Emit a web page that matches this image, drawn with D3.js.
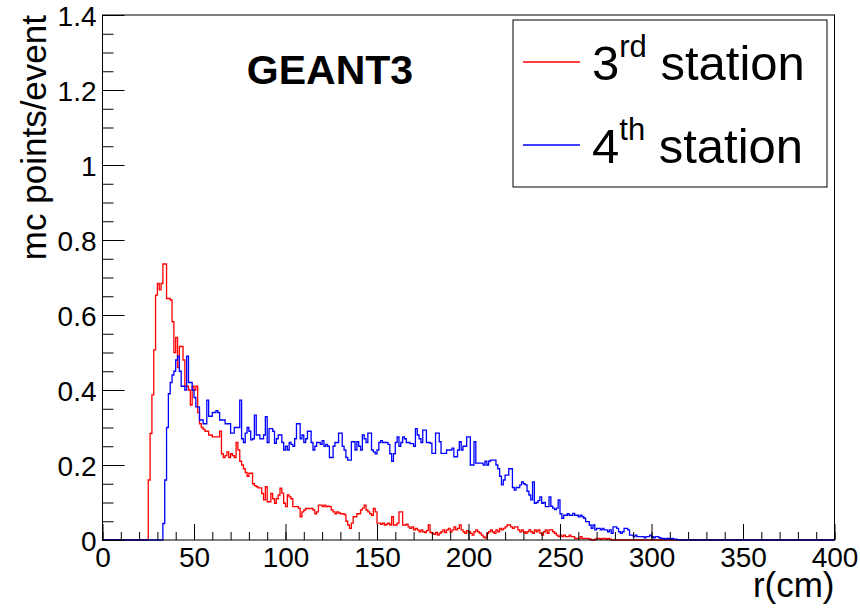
<!DOCTYPE html>
<html>
<head>
<meta charset="utf-8">
<script src="https://cdn.jsdelivr.net/npm/d3@7"></script>
<style>
  body { margin: 0; background: #fff; }
  svg { display: block; font-family: "Liberation Sans", Arial, Helvetica, sans-serif; }
</style>
</head>
<body>
<div id="chart"></div>
<script>
// Histogram: 400 bins of 1 cm, r from 0 to 400 cm
const nBins = 400;
const xMax = 400;

// mc points/event per 1 cm bin, 3rd station (first value is the bin at r = 25 cm)
const station3Start = 25;
const station3 = [
  .16,.284,.387,.507,.653,.684,.667,.684,.736,.736,
  .644,.644,.64,.582,.50,.54,.46,.516,.516,.48,
  .41,.41,.40,.36,.41,.40,.41,.34,.31,.30,
  .295,.29,.29,.28,.28,.275,.275,.275,.275,.29,
  .23,.22,.225,.235,.22,.23,.225,.22,.26,.24,
  .21,.20,.19,.18,.17,.178,.178,.15,.145,.142,
  .139,.139,.124,.107,.142,.102,.102,.124,.11,.098,
  .11,.12,.138,.125,.098,.089,.12,.115,.11,.089,
  .089,.089,.085,.062,.075,.08,.084,.084,.084,.084,
  .08,.07,.075,.093,.093,.089,.093,.089,.09,.089,
  .08,.075,.07,.075,.072,.07,.07,.068,.05,.04,
  .031,.045,.062,.062,.07,.07,.08,.085,.093,.08,
  .075,.07,.066,.084,.075,.045,.045,.042,.045,.04,
  .042,.045,.04,.062,.04,.04,.045,.075,.075,.04,
  .04,.042,.035,.031,.035,.027,.031,.027,.022,.027,
  .022,.02,.025,.04,.02,.018,.015,.02,.013,.018,
  .022,.027,.02,.027,.031,.022,.027,.035,.027,.031,
  .04,.027,.022,.018,.025,.022,.018,.013,.022,.027,
  .022,.018,.013,.008,.005,.018,.022,.027,.022,.018,
  .027,.022,.031,.027,.031,.035,.04,.04,.035,.031,
  .035,.035,.027,.022,.027,.022,.018,.022,.027,.022,
  .018,.027,.022,.027,.018,.013,.022,.027,.018,.027,
  .027,.022,.018,.013,.009,.013,.009,.013,.009,.009,
  .013,.009,.009,.004,.004,.004,.009,.004,.004,.004,
  .004,.002,0,0,.002,.004,.004,.002,.004,.004,
  .002,.004,.002
];

// mc points/event per 1 cm bin, 4th station (first value is the bin at r = 33 cm)
const station4Start = 33;
const station4 = [
  .044,.16,.30,.39,.42,.44,.45,.48,.49,.45,
  .41,.41,.40,.49,.42,.42,.40,.38,.355,.355,
  .32,.32,.31,.31,.373,.33,.33,.34,.34,.345,
  .34,.32,.32,.32,.31,.31,.31,.285,.285,.30,
  .30,.30,.373,.27,.26,.285,.30,.29,.267,.27,
  .333,.28,.28,.27,.27,.28,.329,.26,.297,.297,
  .29,.258,.27,.28,.28,.26,.24,.25,.24,.26,
  .255,.25,.27,.31,.31,.27,.28,.26,.27,.29,
  .29,.26,.24,.25,.26,.26,.255,.265,.25,.255,
  .25,.22,.22,.25,.26,.26,.285,.285,.25,.24,
  .22,.213,.213,.262,.262,.24,.262,.25,.24,.28,
  .27,.26,.285,.285,.24,.235,.23,.24,.26,.265,
  .26,.26,.26,.255,.23,.21,.23,.26,.275,.25,
  .26,.275,.27,.26,.26,.257,.257,.25,.297,.28,
  .27,.26,.293,.293,.26,.26,.258,.231,.231,.285,
  .285,.262,.231,.231,.231,.24,.24,.24,.245,.222,
  .222,.24,.262,.24,.25,.25,.275,.275,.20,.20,
  .262,.205,.205,.205,.205,.20,.21,.20,.21,.213,
  .213,.213,.20,.19,.17,.147,.16,.173,.173,.19,
  .19,.14,.133,.14,.14,.147,.155,.15,.147,.13,
  .12,.107,.155,.098,.10,.105,.115,.098,.10,.089,
  .089,.115,.09,.085,.081,.085,.107,.07,.058,.066,
  .066,.07,.066,.066,.071,.066,.066,.062,.066,.062,
  .058,.049,.049,.04,.031,.04,.027,.031,.031,.027,
  .031,.027,.027,.022,.027,.018,.035,.035,.031,.022,
  .018,.022,.031,.031,.027,.013,.013,.009,.013,.009,
  .009,.009,.009,.006,.009,.009,.013,.009,.006,.009,
  .009,.006,.004,.004,.002,.004,.004,.002,.004,.002,.002
];

const xTicks = [0, 50, 100, 150, 200, 250, 300, 350, 400];
const yTicks = [0, 0.2, 0.4, 0.6, 0.8, 1, 1.2, 1.4];

const width = 860;
const height = 608;
const plot = { left: 102.5, right: 834.5, top: 15, bottom: 540 };

const svg = d3.select('#chart')
  .append('svg')
  .attr('width', width)
  .attr('height', height);

svg.append('rect').attr('width', width).attr('height', height).attr('fill', '#fff');

const x = d3.scaleLinear().domain([0, xMax]).range([plot.left, plot.right]);
const y = d3.scaleLinear().domain([0, 1.4]).range([plot.bottom, plot.top]);

// expand a partial array into the full 400-bin histogram (empty bins are 0)
function fullHist(values, start) {
  return d3.range(nBins).map(i => {
    const j = i - start;
    return j >= 0 && j < values.length ? values[j] : 0;
  });
}

function drawHist(values, start, color) {
  const counts = fullHist(values, start);
  const binW = xMax / nBins;
  const pts = counts.map((v, i) => [i * binW, v]);
  pts.push([xMax, counts[nBins - 1]]);
  const line = d3.line()
    .x(d => x(d[0]))
    .y(d => y(d[1]))
    .curve(d3.curveStepAfter);
  svg.append('path')
    .datum(pts)
    .attr('d', line)
    .attr('fill', 'none')
    .attr('stroke', color)
    .attr('stroke-width', 1.3);
}

drawHist(station3, station3Start, '#ff0000');
drawHist(station4, station4Start, '#0000ff');

// minor ticks
svg.append('g')
  .attr('transform', `translate(0,${plot.bottom})`)
  .call(d3.axisBottom(x).tickValues(d3.range(0, xMax + 1, 10)).tickSize(-8).tickSizeOuter(0).tickFormat(''))
  .call(g => g.select('.domain').remove());
svg.append('g')
  .attr('transform', `translate(${plot.left},0)`)
  .call(d3.axisLeft(y).tickValues(d3.range(0, 29).map(i => i * 0.05)).tickSize(-11).tickSizeOuter(0).tickFormat(''))
  .call(g => g.select('.domain').remove());

// major ticks with labels
const xAxis = svg.append('g')
  .attr('transform', `translate(0,${plot.bottom})`)
  .call(d3.axisBottom(x).tickValues(xTicks).tickSize(-16).tickSizeOuter(0).tickPadding(7).tickFormat(d3.format('d')));
xAxis.select('.domain').remove();
xAxis.selectAll('text').attr('font-size', 28).attr('font-family', null).attr('fill', '#000');

const yAxis = svg.append('g')
  .attr('transform', `translate(${plot.left},0)`)
  .call(d3.axisLeft(y).tickValues(yTicks).tickSize(-22).tickSizeOuter(0).tickPadding(6).tickFormat(d3.format('~g')));
yAxis.select('.domain').remove();
yAxis.selectAll('text').attr('font-size', 28).attr('font-family', null).attr('fill', '#000').attr('dy', '0.36em');

svg.selectAll('.tick line').attr('stroke', '#000').attr('stroke-width', 1);

// frame
svg.append('rect')
  .attr('x', plot.left).attr('y', plot.top)
  .attr('width', plot.right - plot.left).attr('height', plot.bottom - plot.top)
  .attr('fill', 'none').attr('stroke', '#000').attr('stroke-width', 1);

// axis titles
svg.append('text')
  .attr('x', plot.right).attr('y', 597)
  .attr('text-anchor', 'end')
  .attr('font-size', 35)
  .text('r(cm)');

svg.append('text')
  .attr('transform', `translate(46,${plot.top}) rotate(-90)`)
  .attr('text-anchor', 'end')
  .attr('font-size', 35)
  .text('mc points/event');

// label
svg.append('text')
  .attr('x', 330).attr('y', 84)
  .attr('text-anchor', 'middle')
  .attr('font-size', 41)
  .attr('font-weight', 'bold')
  .text('GEANT3');

// legend
const legend = svg.append('g');
legend.append('rect')
  .attr('x', 513).attr('y', 20).attr('width', 314).attr('height', 167)
  .attr('fill', '#fff').attr('stroke', '#000').attr('stroke-width', 1);

const entries = [
  { num: '3', sup: 'rd', color: '#ff0000', y: 62 },
  { num: '4', sup: 'th', color: '#0000ff', y: 145 }
];
entries.forEach(e => {
  legend.append('line')
    .attr('x1', 523).attr('x2', 580)
    .attr('y1', e.y).attr('y2', e.y)
    .attr('stroke', e.color).attr('stroke-width', 1.3);
  const t = legend.append('text')
    .attr('x', 592).attr('y', e.y + 18)
    .attr('font-size', 49);
  t.append('tspan').text(e.num);
  t.append('tspan').attr('font-size', 31).attr('dy', -23).text(e.sup);
  t.append('tspan').attr('dy', 23).text('\u00a0station');
});
</script>
</body>
</html>
